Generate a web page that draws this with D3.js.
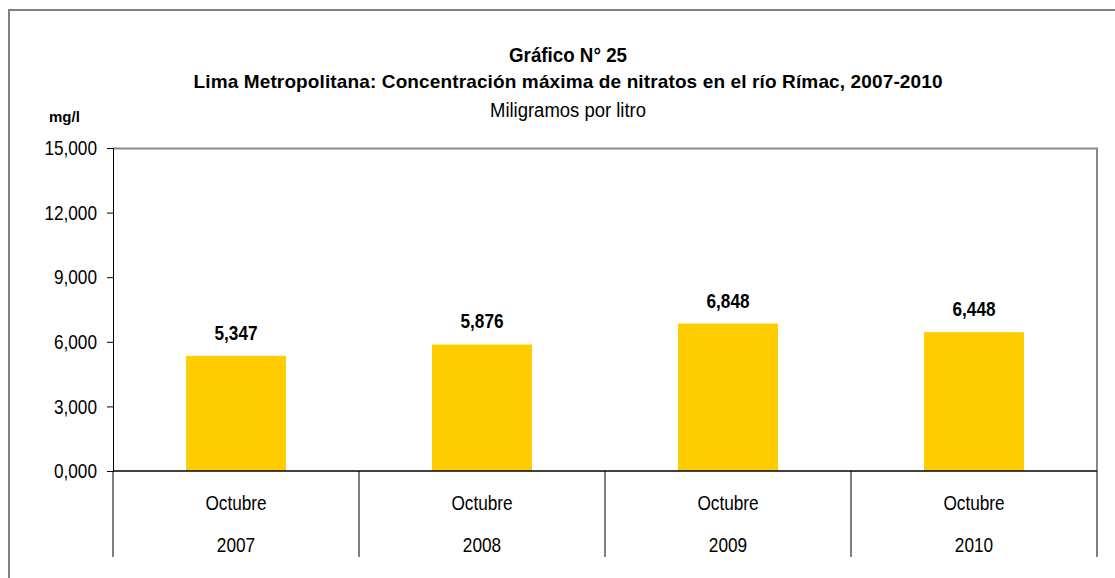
<!DOCTYPE html>
<html>
<head>
<meta charset="utf-8">
<script src="https://cdn.jsdelivr.net/npm/d3@7"></script>
<style>
  body { margin: 0; background: #fff; }
  text { font-family: "Liberation Sans", Arial, sans-serif; fill: #000; }
</style>
</head>
<body>
<div id="chart"></div>
<script>
// Data (mg/l, Spanish decimal comma)
var months = ["Octubre", "Octubre", "Octubre", "Octubre"];
var years = ["2007", "2008", "2009", "2010"];
var nitrates = [5.347, 5.876, 6.848, 6.448];
var yTicks = [0, 3, 6, 9, 12, 15];

var svgWidth = 1115;
var svgHeight = 578;

// the original uses a narrow face; squeeze Liberation Sans to imitate it
var narrow = 0.82;

// plot area
var margin = { top: 148, right: 18, bottom: 107, left: 113 };
var width = svgWidth - margin.left - margin.right;
var height = svgHeight - margin.top - margin.bottom;

var svg = d3.select("#chart")
  .append("svg")
  .attr("width", svgWidth)
  .attr("height", svgHeight);

// outer frame (runs off the right and bottom edges)
svg.append("rect")
  .attr("x", 9)
  .attr("y", 10)
  .attr("width", 1200)
  .attr("height", 700)
  .attr("fill", "none")
  .attr("stroke", "#808080")
  .attr("stroke-width", 2);

var chartGroup = svg.append("g")
  .attr("transform", `translate(${margin.left}, ${margin.top})`);

var es = d3.formatLocale({ decimal: ",", thousands: ".", grouping: [3], currency: ["", ""] });
var fmt = es.format(".3f");

var rows = years.map((y, i) => ({ year: y, month: months[i], value: nitrates[i] }));

var xScale = d3.scaleBand()
  .domain(years)
  .range([0, width])
  .padding(0);

var yScale = d3.scaleLinear()
  .domain([0, 15])
  .range([height, 0]);

// gray plot border on top and right
chartGroup.append("path")
  .attr("d", `M0,0.5H${width}V${height}`)
  .attr("fill", "none")
  .attr("stroke", "#888")
  .attr("stroke-width", 2);

var barW = xScale.bandwidth() * 0.406;
var mid = d => xScale(d.year) + xScale.bandwidth() / 2;

chartGroup.selectAll(".bar")
  .data(rows)
  .enter()
  .append("rect")
  .attr("class", "bar")
  .attr("x", d => xScale(d.year) + (xScale.bandwidth() - barW) / 2)
  .attr("y", d => yScale(d.value))
  .attr("width", barW)
  .attr("height", d => height - yScale(d.value))
  .attr("fill", "#ffcc00");

// value labels
chartGroup.selectAll(".val")
  .data(rows)
  .enter()
  .append("text")
  .attr("class", "val")
  .attr("transform", d => `translate(${mid(d)}, ${yScale(d.value) - 16}) scale(${narrow}, 1)`)
  .attr("text-anchor", "middle")
  .attr("font-size", "21px")
  .attr("font-weight", "bold")
  .text(d => fmt(d.value));

// y axis
var leftAxis = d3.axisLeft(yScale)
  .tickValues(yTicks)
  .tickFormat(fmt)
  .tickSize(6)
  .tickPadding(8);

var yAxisG = chartGroup.append("g").call(leftAxis);
yAxisG.attr("font-family", null).attr("font-size", null);
yAxisG.select(".domain").attr("stroke", "#000");
yAxisG.selectAll(".tick line").attr("stroke", "#000");
yAxisG.selectAll("text")
  .attr("font-size", "21px")
  .attr("fill", "#000")
  .attr("x", -16 / narrow)
  .attr("transform", `scale(${narrow}, 1)`);

// x axis baseline
chartGroup.append("line")
  .attr("x1", 0)
  .attr("x2", width)
  .attr("y1", height)
  .attr("y2", height)
  .attr("stroke", "#000")
  .attr("stroke-width", 1.5);

// category dividers
var bounds = years.map(y => xScale(y)).concat([width]);
chartGroup.selectAll(".div")
  .data(bounds)
  .enter()
  .append("line")
  .attr("class", "div")
  .attr("x1", d => d)
  .attr("x2", d => d)
  .attr("y1", height)
  .attr("y2", height + 86)
  .attr("stroke", "#000")
  .attr("stroke-width", 1);

// category labels, two rows
chartGroup.selectAll(".month")
  .data(rows)
  .enter()
  .append("text")
  .attr("class", "month")
  .attr("transform", d => `translate(${mid(d)}, ${height + 39}) scale(${narrow}, 1)`)
  .attr("text-anchor", "middle")
  .attr("font-size", "21px")
  .text(d => d.month);

chartGroup.selectAll(".year")
  .data(rows)
  .enter()
  .append("text")
  .attr("class", "year")
  .attr("transform", d => `translate(${mid(d)}, ${height + 81}) scale(${narrow}, 1)`)
  .attr("text-anchor", "middle")
  .attr("font-size", "21px")
  .text(d => d.year);

// titles
var cx = 568;
svg.append("text")
  .attr("x", cx)
  .attr("y", 62)
  .attr("text-anchor", "middle")
  .attr("font-size", "20px")
  .attr("font-weight", "bold")
  .attr("textLength", 118)
  .attr("lengthAdjust", "spacingAndGlyphs")
  .text("Gráfico N° 25");

svg.append("text")
  .attr("x", cx)
  .attr("y", 88)
  .attr("text-anchor", "middle")
  .attr("font-size", "19px")
  .attr("font-weight", "bold")
  .attr("textLength", 749)
  .attr("lengthAdjust", "spacing")
  .text("Lima Metropolitana: Concentración máxima de nitratos en el río Rímac, 2007-2010");

svg.append("text")
  .attr("x", cx)
  .attr("y", 117)
  .attr("text-anchor", "middle")
  .attr("font-size", "20px")
  .attr("textLength", 156)
  .attr("lengthAdjust", "spacingAndGlyphs")
  .text("Miligramos por litro");

svg.append("text")
  .attr("x", 49)
  .attr("y", 122)
  .attr("font-size", "15px")
  .attr("font-weight", "bold")
  .text("mg/l");
</script>
</body>
</html>
